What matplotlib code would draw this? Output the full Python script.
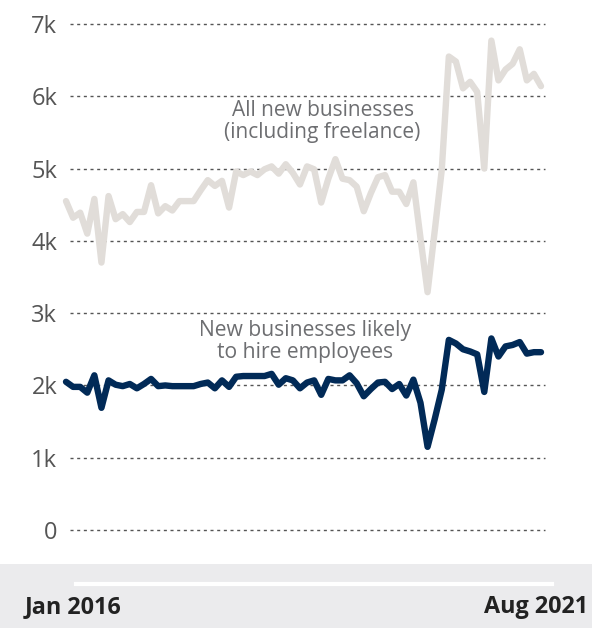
import matplotlib
matplotlib.use("Agg")
import matplotlib.pyplot as plt
from matplotlib.patches import Rectangle
from matplotlib.lines import Line2D

plt.rcParams['font.family'] = ['Open Sans', 'DejaVu Sans']

# Monthly data, Jan 2016 .. Aug 2021 (thousands)
months = list(range(68))
all_new = [4.55, 4.32, 4.39, 4.10, 4.58, 3.70, 4.62, 4.30, 4.37, 4.26,
           4.40, 4.40, 4.77, 4.38, 4.48, 4.42, 4.55, 4.55, 4.55, 4.70,
           4.84, 4.76, 4.83, 4.46, 4.96, 4.91, 4.96, 4.91, 4.99, 5.03,
           4.93, 5.06, 4.94, 4.78, 5.03, 4.99, 4.53, 4.86, 5.13, 4.86,
           4.84, 4.75, 4.41, 4.66, 4.88, 4.91, 4.68, 4.68, 4.51, 4.81,
           4.04, 3.29, 4.13, 4.98, 6.55, 6.48, 6.11, 6.20, 6.06, 5.00,
           6.77, 6.22, 6.37, 6.45, 6.65, 6.22, 6.31, 6.14]
likely_hire = [2.05, 1.98, 1.98, 1.90, 2.14, 1.69, 2.07, 2.01, 1.99, 2.02,
               1.96, 2.02, 2.09, 1.99, 2.00, 1.99, 1.99, 1.99, 1.99, 2.02,
               2.04, 1.96, 2.07, 1.98, 2.12, 2.13, 2.13, 2.13, 2.13, 2.16,
               2.01, 2.10, 2.07, 1.96, 2.04, 2.07, 1.87, 2.09, 2.07, 2.07,
               2.14, 2.03, 1.85, 1.95, 2.04, 2.05, 1.95, 2.02, 1.86, 2.08,
               1.76, 1.15, 1.53, 1.94, 2.63, 2.58, 2.50, 2.47, 2.43, 1.91,
               2.65, 2.40, 2.54, 2.56, 2.60, 2.44, 2.46, 2.46]
y_ticks = [0, 1, 2, 3, 4, 5, 6, 7]
y_tick_labels = ['0', '1k', '2k', '3k', '4k', '5k', '6k', '7k']
x_labels = ['Jan 2016', 'Aug 2021']
label_all = 'All new businesses\n(including freelance)'
label_hire = 'New businesses likely\nto hire employees'

W, H = 592, 628
fig = plt.figure(figsize=(W / 100, H / 100), dpi=100)

# axes in pixel coordinates
ax_l, ax_r = 60, 550
ax_top, ax_bot = 10, 545
ax = fig.add_axes([ax_l / W, 1 - ax_bot / H, (ax_r - ax_l) / W, (ax_bot - ax_top) / H])

x0_px, x1_px = 66, 541
ppx = (x1_px - x0_px) / 67
ax.set_xlim(-(x0_px - ax_l) / ppx, 67 + (ax_r - x1_px) / ppx)
y0_px, y7_px = 530, 24
ppy = (y0_px - y7_px) / 7
ax.set_ylim(-(ax_bot - y0_px) / ppy, 7 + (y7_px - ax_top) / ppy)

# gridlines
g0 = (70 - x0_px) / ppx
g1 = (545 - x0_px) / ppx
ax.hlines(y_ticks, g0, g1, colors='#555555', linestyles=(0, (2.2, 2.6)), linewidth=1.0, zorder=1)

ax.plot(months, all_new, color='#e1ddd9', linewidth=4.6, solid_joinstyle='round',
        solid_capstyle='round', zorder=2)
ax.plot(months, likely_hire, color='#012a57', linewidth=4.6, solid_joinstyle='round',
        solid_capstyle='round', zorder=3)

ax.set_yticks(y_ticks)
ax.set_yticklabels(y_tick_labels, fontsize=17, color='#555555')
ax.tick_params(axis='y', length=0, pad=2)
ax.set_xticks([])
for s in ax.spines.values():
    s.set_visible(False)
ax.patch.set_alpha(0)

ax.text(36.2, 5.65, label_all, ha='center', va='center', fontsize=15,
        color='#6d6e71', linespacing=1.05)
ax.text(33.7, 2.61, label_hire, ha='center', va='center', fontsize=15.2,
        color='#6d6e71', linespacing=1.05)

# bottom band
fig.patches.append(Rectangle((0, 0), 1, (H - 564) / H, transform=fig.transFigure,
                             facecolor='#ebebed', edgecolor='none', zorder=0))
fig.lines.append(Line2D([76 / W, 552 / W], [1 - 584 / H, 1 - 584 / H], transform=fig.transFigure,
                        color='white', linewidth=3, zorder=1))
fig.text(25 / W, 1 - 607 / H, x_labels[0], ha='left', va='center', fontsize=16.8,
         fontweight='bold', color='#222222')
fig.text(588 / W, 1 - 607 / H, x_labels[1], ha='right', va='center', fontsize=16.8,
         fontweight='bold', color='#222222')

fig.savefig('out.png', dpi=100)
